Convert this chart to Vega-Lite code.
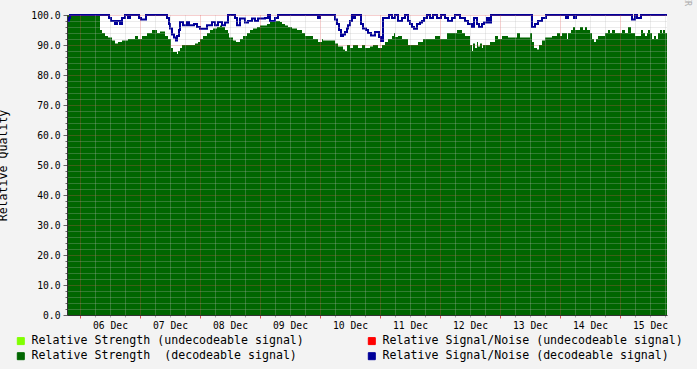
{
"$schema": "https://vega.github.io/schema/vega-lite/v6.json",
"width": 600, "height": 300,
"autosize": "none",
"padding": {"left": 67, "top": 15, "right": 30, "bottom": 54},
"background": "#f3f3f3",
"title": {"text": "RRDTOOL / TOBI OETIKER", "orient": "top", "anchor": "end", "frame": "group", "angle": 90, "align": "left", "baseline": "middle", "offset": 4, "dy": -20, "font": "DejaVu Sans Mono", "fontSize": 8.3, "fontWeight": "normal", "color": "#aaaaaa"},
"config": {
 "font": "DejaVu Sans Mono",
 "view": {"fill": "#ffffff", "strokeWidth": 0}
},
"datasets": {
 "strength": [
{"t":"2008-12-05T18:48","v":100},{"t":"2008-12-06T08:00","v":95},{"t":"2008-12-06T08:48","v":94},{"t":"2008-12-06T10:00","v":93},{"t":"2008-12-06T11:12","v":92.5},{"t":"2008-12-06T12:48","v":91.5},{"t":"2008-12-06T14:00","v":90.5},{"t":"2008-12-06T15:12","v":91},{"t":"2008-12-06T16:48","v":91.5},{"t":"2008-12-06T19:12","v":92},{"t":"2008-12-06T22:00","v":93},{"t":"2008-12-06T23:12","v":92},{"t":"2008-12-07T00:48","v":93},{"t":"2008-12-07T02:48","v":94},{"t":"2008-12-07T04:48","v":95},{"t":"2008-12-07T06:48","v":94},{"t":"2008-12-07T08:00","v":94.5},{"t":"2008-12-07T10:00","v":93},{"t":"2008-12-07T11:12","v":92},{"t":"2008-12-07T12:24","v":89},{"t":"2008-12-07T13:12","v":87.7},{"t":"2008-12-07T14:48","v":87},{"t":"2008-12-07T15:12","v":88},{"t":"2008-12-07T16:00","v":89},{"t":"2008-12-07T16:48","v":90},{"t":"2008-12-07T22:00","v":90.5},{"t":"2008-12-07T23:12","v":91},{"t":"2008-12-08T00:00","v":92},{"t":"2008-12-08T01:12","v":93},{"t":"2008-12-08T02:48","v":94},{"t":"2008-12-08T04:00","v":95},{"t":"2008-12-08T05:12","v":95.5},{"t":"2008-12-08T06:48","v":96},{"t":"2008-12-08T08:00","v":96.5},{"t":"2008-12-08T08:48","v":96},{"t":"2008-12-08T10:00","v":95},{"t":"2008-12-08T11:12","v":94},{"t":"2008-12-08T11:36","v":92.5},{"t":"2008-12-08T13:12","v":91.5},{"t":"2008-12-08T14:24","v":91},{"t":"2008-12-08T16:00","v":92},{"t":"2008-12-08T17:12","v":93},{"t":"2008-12-08T18:48","v":94},{"t":"2008-12-08T20:00","v":95},{"t":"2008-12-08T21:12","v":95.5},{"t":"2008-12-08T22:48","v":96},{"t":"2008-12-09T00:00","v":96.5},{"t":"2008-12-09T02:48","v":97},{"t":"2008-12-09T04:00","v":97.7},{"t":"2008-12-09T04:48","v":98},{"t":"2008-12-09T08:00","v":97.7},{"t":"2008-12-09T08:48","v":97},{"t":"2008-12-09T10:00","v":96.5},{"t":"2008-12-09T11:12","v":96},{"t":"2008-12-09T12:48","v":95.5},{"t":"2008-12-09T14:48","v":95},{"t":"2008-12-09T16:48","v":94},{"t":"2008-12-09T18:00","v":93},{"t":"2008-12-09T21:12","v":92},{"t":"2008-12-09T23:12","v":91},{"t":"2008-12-10T00:48","v":92},{"t":"2008-12-10T01:12","v":91.5},{"t":"2008-12-10T06:00","v":90.5},{"t":"2008-12-10T07:12","v":89.5},{"t":"2008-12-10T09:12","v":88.5},{"t":"2008-12-10T10:00","v":88},{"t":"2008-12-10T10:48","v":90},{"t":"2008-12-10T12:00","v":89},{"t":"2008-12-10T13:12","v":90},{"t":"2008-12-10T15:12","v":89},{"t":"2008-12-10T16:48","v":90},{"t":"2008-12-10T18:00","v":89},{"t":"2008-12-10T20:00","v":89.5},{"t":"2008-12-10T21:12","v":90},{"t":"2008-12-10T23:12","v":89},{"t":"2008-12-11T00:48","v":90},{"t":"2008-12-11T02:00","v":91},{"t":"2008-12-11T03:12","v":92},{"t":"2008-12-11T04:48","v":93},{"t":"2008-12-11T05:36","v":94},{"t":"2008-12-11T06:00","v":92.7},{"t":"2008-12-11T07:12","v":93},{"t":"2008-12-11T08:48","v":92},{"t":"2008-12-11T11:12","v":90},{"t":"2008-12-11T15:12","v":91},{"t":"2008-12-11T17:12","v":92},{"t":"2008-12-11T22:00","v":93},{"t":"2008-12-12T00:00","v":92},{"t":"2008-12-12T02:48","v":94},{"t":"2008-12-12T06:48","v":95},{"t":"2008-12-12T08:48","v":94},{"t":"2008-12-12T10:00","v":93},{"t":"2008-12-12T12:00","v":90},{"t":"2008-12-12T12:48","v":88},{"t":"2008-12-12T13:12","v":90.5},{"t":"2008-12-12T14:00","v":89},{"t":"2008-12-12T14:48","v":91},{"t":"2008-12-12T15:12","v":89.5},{"t":"2008-12-12T16:00","v":90.5},{"t":"2008-12-12T16:48","v":89},{"t":"2008-12-12T17:12","v":90},{"t":"2008-12-12T20:00","v":91},{"t":"2008-12-12T22:00","v":93},{"t":"2008-12-12T23:12","v":92},{"t":"2008-12-13T00:48","v":93},{"t":"2008-12-13T03:12","v":92.5},{"t":"2008-12-13T06:48","v":94},{"t":"2008-12-13T08:00","v":92.5},{"t":"2008-12-13T12:00","v":94},{"t":"2008-12-13T12:48","v":91},{"t":"2008-12-13T13:36","v":89},{"t":"2008-12-13T14:48","v":88.5},{"t":"2008-12-13T15:36","v":90},{"t":"2008-12-13T16:48","v":91.5},{"t":"2008-12-13T18:00","v":92.5},{"t":"2008-12-13T20:48","v":93},{"t":"2008-12-13T22:48","v":94},{"t":"2008-12-14T00:00","v":93},{"t":"2008-12-14T00:48","v":94},{"t":"2008-12-14T02:48","v":92},{"t":"2008-12-14T03:12","v":94},{"t":"2008-12-14T04:24","v":95},{"t":"2008-12-14T05:12","v":96},{"t":"2008-12-14T06:00","v":95},{"t":"2008-12-14T08:00","v":96},{"t":"2008-12-14T09:12","v":95},{"t":"2008-12-14T10:00","v":96},{"t":"2008-12-14T10:48","v":95},{"t":"2008-12-14T12:00","v":94},{"t":"2008-12-14T12:48","v":92},{"t":"2008-12-14T13:36","v":91},{"t":"2008-12-14T14:24","v":92},{"t":"2008-12-14T15:12","v":93},{"t":"2008-12-14T18:00","v":94},{"t":"2008-12-14T19:12","v":95},{"t":"2008-12-14T20:00","v":94},{"t":"2008-12-14T20:48","v":95},{"t":"2008-12-14T22:00","v":94},{"t":"2008-12-15T00:48","v":95},{"t":"2008-12-15T02:00","v":94},{"t":"2008-12-15T03:12","v":96},{"t":"2008-12-15T04:24","v":94},{"t":"2008-12-15T06:00","v":93},{"t":"2008-12-15T08:24","v":95},{"t":"2008-12-15T09:12","v":94},{"t":"2008-12-15T10:00","v":93},{"t":"2008-12-15T10:48","v":94},{"t":"2008-12-15T11:12","v":95},{"t":"2008-12-15T12:00","v":94},{"t":"2008-12-15T12:48","v":92},{"t":"2008-12-15T13:36","v":93},{"t":"2008-12-15T14:24","v":92},{"t":"2008-12-15T15:12","v":94},{"t":"2008-12-15T16:00","v":95},{"t":"2008-12-15T16:48","v":94},{"t":"2008-12-15T17:12","v":95},{"t":"2008-12-15T18:00","v":94},{"t":"2008-12-15T18:48","v":94}
 ],
 "snr": [
{"t":"2008-12-05T18:48","v":98},{"t":"2008-12-05T19:36","v":99},{"t":"2008-12-05T20:00","v":100},{"t":"2008-12-06T11:36","v":99},{"t":"2008-12-06T12:24","v":98},{"t":"2008-12-06T14:00","v":97},{"t":"2008-12-06T14:48","v":98},{"t":"2008-12-06T16:00","v":97},{"t":"2008-12-06T16:48","v":99},{"t":"2008-12-06T18:00","v":100},{"t":"2008-12-06T19:12","v":99},{"t":"2008-12-06T20:00","v":100},{"t":"2008-12-06T23:36","v":99},{"t":"2008-12-07T00:24","v":98.5},{"t":"2008-12-07T02:24","v":100},{"t":"2008-12-07T10:48","v":99},{"t":"2008-12-07T11:36","v":97},{"t":"2008-12-07T12:00","v":95.5},{"t":"2008-12-07T12:48","v":93.5},{"t":"2008-12-07T13:36","v":92.5},{"t":"2008-12-07T14:24","v":91.5},{"t":"2008-12-07T14:48","v":93},{"t":"2008-12-07T15:36","v":95},{"t":"2008-12-07T16:00","v":97.7},{"t":"2008-12-07T17:12","v":96.6},{"t":"2008-12-07T18:48","v":97.7},{"t":"2008-12-07T19:36","v":96.6},{"t":"2008-12-07T21:36","v":97},{"t":"2008-12-07T22:48","v":96},{"t":"2008-12-08T00:00","v":95.4},{"t":"2008-12-08T02:48","v":96.6},{"t":"2008-12-08T04:48","v":97.7},{"t":"2008-12-08T06:00","v":96.6},{"t":"2008-12-08T07:12","v":97.7},{"t":"2008-12-08T08:48","v":96.6},{"t":"2008-12-08T10:00","v":97.5},{"t":"2008-12-08T11:12","v":100},{"t":"2008-12-08T14:00","v":99},{"t":"2008-12-08T14:48","v":96.6},{"t":"2008-12-08T16:00","v":98.8},{"t":"2008-12-08T18:00","v":97.5},{"t":"2008-12-08T19:12","v":98},{"t":"2008-12-08T20:48","v":98.8},{"t":"2008-12-08T22:00","v":98},{"t":"2008-12-08T23:12","v":98.8},{"t":"2008-12-09T02:00","v":99},{"t":"2008-12-09T03:12","v":100},{"t":"2008-12-09T04:00","v":98},{"t":"2008-12-09T06:00","v":99},{"t":"2008-12-09T07:12","v":100},{"t":"2008-12-09T23:12","v":99},{"t":"2008-12-10T00:00","v":100},{"t":"2008-12-10T06:00","v":98.5},{"t":"2008-12-10T06:48","v":97},{"t":"2008-12-10T07:36","v":95},{"t":"2008-12-10T08:24","v":93},{"t":"2008-12-10T09:12","v":93.5},{"t":"2008-12-10T10:00","v":94.3},{"t":"2008-12-10T10:48","v":95.5},{"t":"2008-12-10T11:12","v":96.6},{"t":"2008-12-10T12:00","v":98},{"t":"2008-12-10T12:48","v":100},{"t":"2008-12-10T13:12","v":99},{"t":"2008-12-10T14:00","v":100},{"t":"2008-12-10T16:24","v":97},{"t":"2008-12-10T17:12","v":95.5},{"t":"2008-12-10T18:24","v":95},{"t":"2008-12-10T19:12","v":94},{"t":"2008-12-10T20:24","v":93.2},{"t":"2008-12-10T22:00","v":94.3},{"t":"2008-12-10T23:36","v":92.7},{"t":"2008-12-11T00:24","v":91.3},{"t":"2008-12-11T01:12","v":99},{"t":"2008-12-11T03:36","v":100},{"t":"2008-12-11T04:48","v":99},{"t":"2008-12-11T06:00","v":100},{"t":"2008-12-11T07:12","v":98},{"t":"2008-12-11T08:48","v":99},{"t":"2008-12-11T10:00","v":100},{"t":"2008-12-11T11:12","v":98},{"t":"2008-12-11T12:00","v":97},{"t":"2008-12-11T12:48","v":96},{"t":"2008-12-11T13:36","v":95.4},{"t":"2008-12-11T14:48","v":97},{"t":"2008-12-11T16:00","v":97.5},{"t":"2008-12-11T16:48","v":98},{"t":"2008-12-11T17:36","v":99},{"t":"2008-12-11T18:48","v":100},{"t":"2008-12-11T20:00","v":99},{"t":"2008-12-11T21:12","v":100},{"t":"2008-12-11T22:48","v":99},{"t":"2008-12-12T00:24","v":100},{"t":"2008-12-12T02:00","v":99},{"t":"2008-12-12T03:12","v":98},{"t":"2008-12-12T04:48","v":99},{"t":"2008-12-12T06:00","v":100},{"t":"2008-12-12T08:00","v":99},{"t":"2008-12-12T10:00","v":98},{"t":"2008-12-12T11:12","v":97},{"t":"2008-12-12T12:48","v":96},{"t":"2008-12-12T13:36","v":99},{"t":"2008-12-12T14:48","v":97},{"t":"2008-12-12T15:36","v":96},{"t":"2008-12-12T16:48","v":97},{"t":"2008-12-12T17:36","v":97.5},{"t":"2008-12-12T18:48","v":99},{"t":"2008-12-12T19:36","v":97.5},{"t":"2008-12-12T20:24","v":100},{"t":"2008-12-13T12:48","v":96},{"t":"2008-12-13T14:00","v":97},{"t":"2008-12-13T15:12","v":98},{"t":"2008-12-13T16:48","v":99},{"t":"2008-12-13T18:24","v":100},{"t":"2008-12-14T02:24","v":99},{"t":"2008-12-14T03:12","v":100},{"t":"2008-12-14T05:36","v":99},{"t":"2008-12-14T06:24","v":100},{"t":"2008-12-15T04:48","v":98.5},{"t":"2008-12-15T06:00","v":100},{"t":"2008-12-15T06:48","v":99},{"t":"2008-12-15T08:24","v":100},{"t":"2008-12-15T18:48","v":100}
 ]
},
"layer": [
 {
  "data": {"name": "strength"},
  "mark": {"type": "area", "interpolate": "step-after"},
  "encoding": {
   "x": {"field": "t", "type": "temporal",
     "scale": {"domain": [{"year": 2008, "month": 12, "date": 5, "hours": 18, "minutes": 48}, {"year": 2008, "month": 12, "date": 15, "hours": 18, "minutes": 48}]},
     "axis": {"title": null, "format": "%d %b", "tickCount": 200,
       "values": [
        {"year":2008,"month":12,"date":6,"hours":0},{"year":2008,"month":12,"date":6,"hours":6},{"year":2008,"month":12,"date":6,"hours":12},{"year":2008,"month":12,"date":6,"hours":18},
        {"year":2008,"month":12,"date":7,"hours":0},{"year":2008,"month":12,"date":7,"hours":6},{"year":2008,"month":12,"date":7,"hours":12},{"year":2008,"month":12,"date":7,"hours":18},
        {"year":2008,"month":12,"date":8,"hours":0},{"year":2008,"month":12,"date":8,"hours":6},{"year":2008,"month":12,"date":8,"hours":12},{"year":2008,"month":12,"date":8,"hours":18},
        {"year":2008,"month":12,"date":9,"hours":0},{"year":2008,"month":12,"date":9,"hours":6},{"year":2008,"month":12,"date":9,"hours":12},{"year":2008,"month":12,"date":9,"hours":18},
        {"year":2008,"month":12,"date":10,"hours":0},{"year":2008,"month":12,"date":10,"hours":6},{"year":2008,"month":12,"date":10,"hours":12},{"year":2008,"month":12,"date":10,"hours":18},
        {"year":2008,"month":12,"date":11,"hours":0},{"year":2008,"month":12,"date":11,"hours":6},{"year":2008,"month":12,"date":11,"hours":12},{"year":2008,"month":12,"date":11,"hours":18},
        {"year":2008,"month":12,"date":12,"hours":0},{"year":2008,"month":12,"date":12,"hours":6},{"year":2008,"month":12,"date":12,"hours":12},{"year":2008,"month":12,"date":12,"hours":18},
        {"year":2008,"month":12,"date":13,"hours":0},{"year":2008,"month":12,"date":13,"hours":6},{"year":2008,"month":12,"date":13,"hours":12},{"year":2008,"month":12,"date":13,"hours":18},
        {"year":2008,"month":12,"date":14,"hours":0},{"year":2008,"month":12,"date":14,"hours":6},{"year":2008,"month":12,"date":14,"hours":12},{"year":2008,"month":12,"date":14,"hours":18},
        {"year":2008,"month":12,"date":15,"hours":0},{"year":2008,"month":12,"date":15,"hours":6},{"year":2008,"month":12,"date":15,"hours":12},{"year":2008,"month":12,"date":15,"hours":18}],
       "labelExpr": "hours(datum.value) == 0 ? datum.label : ''",
       "labelOverlap": false, "labelOffset": 30, "labelFlush": false, "labelPadding": 2,
       "tickSize": {"condition": {"test": "hours(datum.value) == 0", "value": 3}, "value": 2},
       "tickColor": {"condition": {"test": "hours(datum.value) == 0", "value": "#e05050"}, "value": "#aaaaaa"},
       "gridColor": {"condition": {"test": "hours(datum.value) == 0", "value": "#e05050"}, "value": "#bbbbbb"},
       "gridOpacity": 0.55,
       "gridDash": [1, 1], "domainColor": "#333333", "zindex": 1,
       "labelFont": "DejaVu Sans Mono", "labelFontSize": 9.7, "labelColor": "#000000"}},
   "y": {"field": "v", "type": "quantitative",
     "scale": {"domain": [0, 100], "nice": false},
     "axis": {"title": "Relative Quality", "titleFont": "DejaVu Sans Mono", "titleFontSize": 11.6, "titleFontWeight": "normal", "titleColor": "#000000", "titlePadding": 22,
       "tickCount": 200,
       "values": [0,2,4,6,8,10,12,14,16,18,20,22,24,26,28,30,32,34,36,38,40,42,44,46,48,50,52,54,56,58,60,62,64,66,68,70,72,74,76,78,80,82,84,86,88,90,92,94,96,98,100],
       "labelExpr": "datum.value % 10 == 0 ? datum.label : ''",
       "labelOverlap": false,
       "tickSize": {"condition": {"test": "datum.value % 10 == 0", "value": 4}, "value": 2},
       "labelPadding": 3, "tickColor": "#666666",
       "gridColor": {"condition": {"test": "datum.value % 10 == 0", "value": "#e05050"}, "value": "#bbbbbb"},
       "gridOpacity": 0.55,
       "gridDash": [1, 1], "domainColor": "#333333", "zindex": 1,
       "labelFont": "DejaVu Sans Mono", "labelFontSize": 9.7, "labelColor": "#000000"}},
   "color": {"datum": "Relative Strength\u00a0 (decodeable signal)", "type": "nominal",
     "scale": {"domain": ["Relative Strength (undecodeable signal)", "Relative Strength\u00a0 (decodeable signal)", "Relative Signal/Noise (undecodeable signal)", "Relative Signal/Noise (decodeable signal)"], "range": ["#80ff00", "#006600", "#ff0000", "#000099"]},
     "legend": {"title": null, "orient": "none", "legendX": -52, "legendY": 320, "columns": 2, "columnPadding": 62, "rowPadding": 2.4, "padding": 0,
       "symbolType": "square", "symbolSize": 49, "symbolStrokeColor": "#000000", "symbolStrokeWidth": 1, "labelFont": "DejaVu Sans Mono", "labelFontSize": 11.6, "labelColor": "#000000", "labelOffset": 5, "labelLimit": 500}}
  }
 },
 {
  "data": {"name": "snr"},
  "mark": {"type": "line", "interpolate": "step-after", "strokeWidth": 2},
  "encoding": {
   "x": {"field": "t", "type": "temporal"},
   "y": {"field": "v", "type": "quantitative"},
   "color": {"datum": "Relative Signal/Noise (decodeable signal)", "type": "nominal"}
  }
 }
]
}
